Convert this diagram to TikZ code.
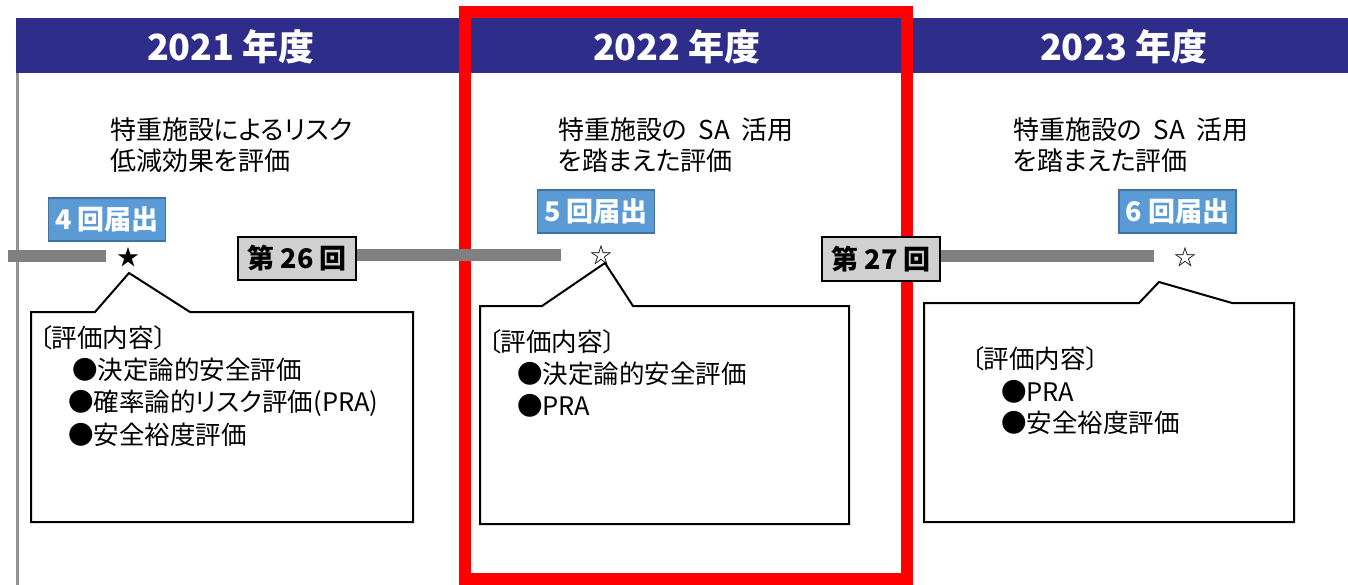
\documentclass[tikz,border=0pt]{standalone}
\usepackage{fontspec}
\setmainfont{Noto Sans CJK JP}[RawFeature=+palt]
\definecolor{navy}{RGB}{46,46,138}
\definecolor{badgefill}{RGB}{91,155,213}
\definecolor{badgeedge}{RGB}{65,113,156}
\definecolor{tlgray}{RGB}{128,128,128}
\definecolor{boxgray}{RGB}{208,208,208}
\definecolor{frame}{RGB}{255,0,0}
\newcommand{\gapw}{\hspace{0.45em}}
\tikzset{
  hdr/.style={text=white, font=\fontsize{36}{40}\selectfont\bfseries, inner sep=0pt},
  sub/.style={anchor=west, align=left, font=\fontsize{26}{31}\selectfont, inner sep=0pt},
  badge/.style={draw=badgeedge, line width=1.5pt, fill=badgefill, text=white, font=\fontsize{27}{30}\selectfont\bfseries, minimum width=117pt, minimum height=43pt, inner sep=0pt},
  roundbox/.style={draw=black, line width=2pt, fill=boxgray, font=\fontsize{27}{30}\selectfont\bfseries, minimum width=118pt, minimum height=43pt, inner sep=0pt},
  tl/.style={draw=tlgray, line width=12pt},
  callout/.style={draw=black, line width=2pt, fill=white, line join=miter},
  body/.style={anchor=west, font=\fontsize{25.5}{28}\selectfont, inner sep=0pt},
  starmark/.style={font=\fontsize{22}{24}\selectfont, inner sep=0pt}
}
\begin{document}
\begin{tikzpicture}[x=1pt,y=-1pt]
\useasboundingbox (0,0) rectangle (1348,585);
% left vertical line
\draw[draw=tlgray!85, line width=3pt] (17.5,20) -- (17.5,585);
% header band
\fill[navy] (16,18) rectangle (1348,73);
\node[hdr] (h1) at (231,47) {2021 年度};
\node[hdr] (h2) at (677,47) {2022 年度};
\node[hdr] (h3) at (1124,47) {2023 年度};
% red frame
\draw[frame, line width=12pt] (465,12) rectangle (907,579);
% subtitles
\node[sub] (s1) at (110,145) {特重施設によるリスク\\低減効果を評価};
\node[sub] (s2) at (558,145) {特重施設の\gapw SA\gapw 活用\\を踏まえた評価};
\node[sub] (s3) at (1013,145) {特重施設の\gapw SA\gapw 活用\\を踏まえた評価};
% badges
\node[badge] (b1) at (107,219.5) {4 回届出};
\node[badge] (b2) at (596,211.5) {5 回届出};
\node[badge] (b3) at (1177.5,211.5) {6 回届出};
% stars
\node[starmark] (st1) at (128,257) {★};
\node[starmark] (st2) at (601,255) {☆};
\node[starmark] (st3) at (1185,257) {☆};
% round boxes
\node[roundbox] (r26) at (297,258.5) {第 26 回};
\node[roundbox] (r27) at (881,259) {第 27 回};
% timeline
\coordinate (t0) at (8,256);
\coordinate (t1) at (106,256);
\coordinate (t2) at (561,255);
\coordinate (t3) at (1154,256);
\draw[tl] (t0) -- (t1);
\draw[tl] (r26.east |- t2) -- (t2);
\draw[tl] (r27.east |- t3) -- (t3);
% redraw boxes above lines
\node[roundbox] at (r26) {第 26 回};
\node[roundbox] at (r27) {第 27 回};
% callouts
\coordinate (p1) at (129,273);
\coordinate (p2) at (605,263);
\coordinate (p3) at (1159,282);
\draw[callout] (31,312) -- (95,312) -- (p1) -- (190,312) -- (413,312) -- (413,522) -- (31,522) -- cycle;
\draw[callout] (480,306) -- (542,306) -- (p2) -- (633,306) -- (849,306) -- (849,524) -- (480,524) -- cycle;
\draw[callout] (924,303) -- (1139,303) -- (p3) -- (1232,303) -- (1294,303) -- (1294,522) -- (924,522) -- cycle;
% callout texts
\node[body] (c1a) at (39,338) {〔評価内容〕};
\node[body] (c1b) at (72,370) {●決定論的安全評価};
\node[body] (c1c) at (68,403) {●確率論的リスク評価(PRA)};
\node[body] (c1d) at (68,435) {●安全裕度評価};
\node[body] (c2a) at (488,342) {〔評価内容〕};
\node[body] (c2b) at (517,374) {●決定論的安全評価};
\node[body] (c2c) at (517,406) {●PRA};
\node[body] (c3a) at (971,359) {〔評価内容〕};
\node[body] (c3b) at (1001,392) {●PRA};
\node[body] (c3c) at (1001,423) {●安全裕度評価};
\end{tikzpicture}
\end{document}
